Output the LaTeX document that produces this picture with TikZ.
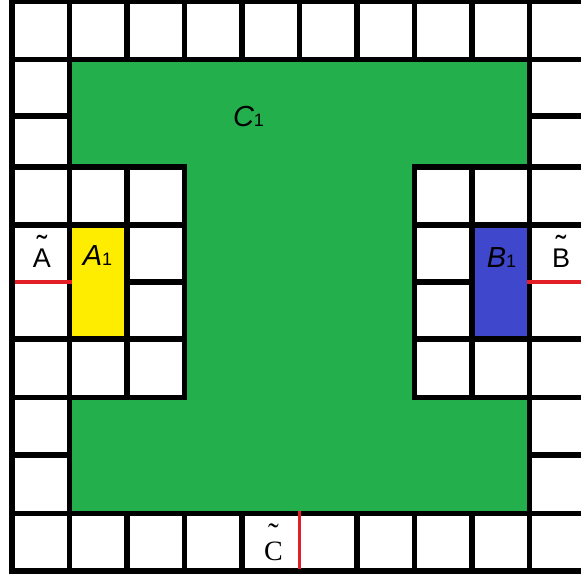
\documentclass[tikz,border=0pt]{standalone}
\usepackage{fontspec}
\setmainfont{Liberation Sans}
\newfontfamily\seriffont{Liberation Serif}
\definecolor{cgreen}{RGB}{35,175,75}
\definecolor{cyellow}{RGB}{255,237,0}
\definecolor{cblue}{RGB}{63,72,204}
\definecolor{cred}{RGB}{228,30,38}
\newcommand\tildeon[2]{\ooalign{#2\cr\hidewidth\raisebox{#1}{\scalebox{1.15}{\char"02DC}}\hidewidth\cr}}
\newcommand\subone{{\upshape\fontsize{18}{18}\selectfont 1}}
\begin{document}
\begin{tikzpicture}[x=1pt,y=-1pt,
  gridline/.style={line width=5.3pt, line cap=rect, black},
  redline/.style={cred, line width=3.6pt},
  tlbl/.style={anchor=base, inner sep=0pt, font=\fontsize{27}{27}\selectfont},
  ilbl/.style={anchor=base, inner sep=0pt, font=\fontsize{29}{29}\selectfont\itshape}]
\useasboundingbox (0,0) rectangle (581,577);
\fill[white] (0,0) rectangle (581,577);
% green region
\fill[cgreen] (69.5,59.5) -- (529.5,59.5) -- (529.5,167) -- (414.5,167) -- (414.5,397.5)
  -- (529.5,397.5) -- (529.5,513.5) -- (69.5,513.5) -- (69.5,397.5) -- (184.5,397.5)
  -- (184.5,167) -- (69.5,167) -- cycle;
\fill[cyellow] (69.5,225) rectangle (127,339);
\fill[cblue] (472,225) rectangle (529.5,339);
% grid lines
\foreach \y in {1,59.5,513.5,571} \draw[gridline] (12,\y) -- (590,\y);
\foreach \y in {116,455} {\draw[gridline] (12,\y) -- (69.5,\y); \draw[gridline] (529.5,\y) -- (590,\y);}
\foreach \y in {167,225,339,397.5} {\draw[gridline] (12,\y) -- (184.5,\y); \draw[gridline] (414.5,\y) -- (590,\y);}
\draw[gridline] (127,282) -- (184.5,282);
\draw[gridline] (414.5,282) -- (472,282);
\foreach \x in {12,69.5,529.5} \draw[gridline] (\x,1) -- (\x,571);
\foreach \x in {127,184.5,242,299.5,357,414.5,472} \draw[gridline] (\x,1) -- (\x,59.5);
\foreach \x in {127,184.5,242,357,414.5,472} \draw[gridline] (\x,513.5) -- (\x,571);
\foreach \x in {127,184.5,414.5,472} \draw[gridline] (\x,167) -- (\x,397.5);
% red lines
\coordinate (ra1) at (14.5,282);
\coordinate (ra2) at (72,282);
\coordinate (rb1) at (527,282);
\coordinate (rb2) at (581,282);
\coordinate (rc1) at (299.5,511);
\coordinate (rc2) at (299.5,568.5);
\draw[redline] (ra1) -- (ra2);
\draw[redline] (rb1) -- (rb2);
\draw[redline] (rc1) -- (rc2);
% labels
\node[tlbl] (Atil) at (42,268) {\tildeon{10.5pt}{A}};
\node[tlbl] (Btil) at (561,268) {\tildeon{10.5pt}{B}};
\node[tlbl, font=\seriffont\fontsize{28}{28}\selectfont] (Ctil) at (273.5,560) {\tildeon{14.5pt}{C}};
\node[ilbl] (A1) at (97.5,266) {A\subone};
\node[ilbl] (B1) at (501.5,268) {B\subone};
\node[ilbl] (C1) at (248.5,127) {C\subone};
\end{tikzpicture}
\end{document}
